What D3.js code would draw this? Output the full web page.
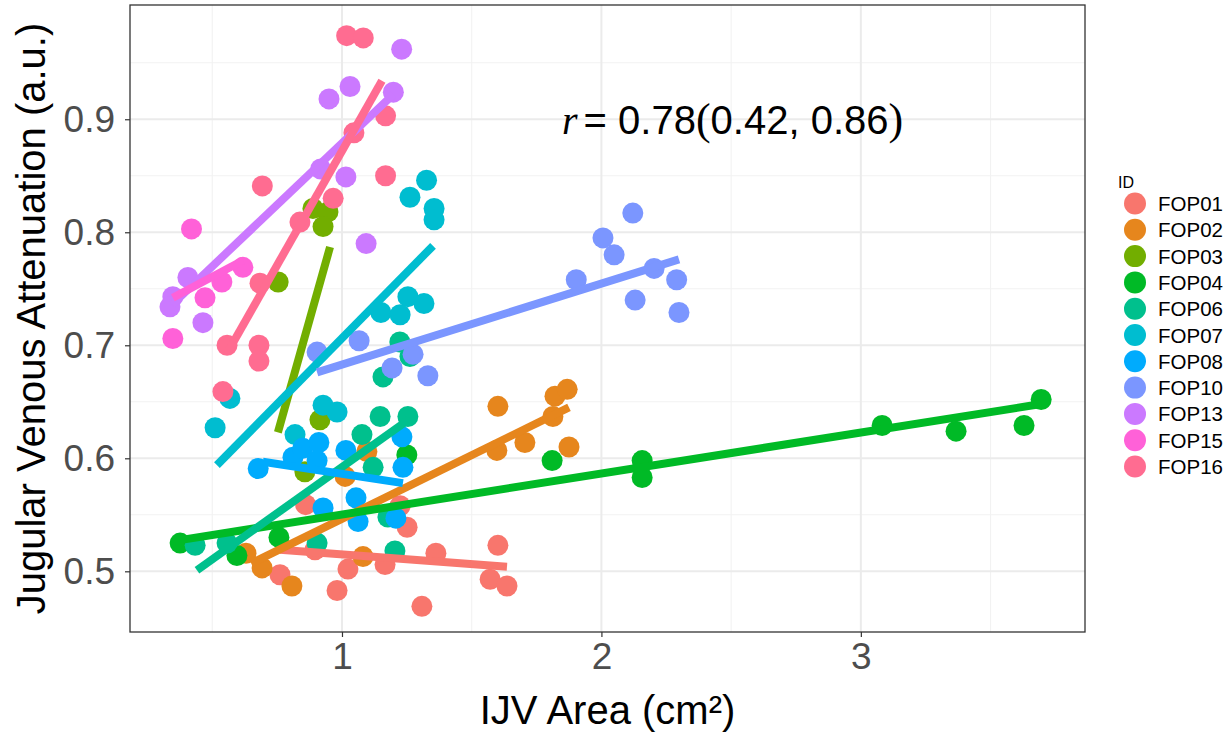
<!DOCTYPE html>
<html>
<head>
<meta charset="utf-8">
<script src="https://cdn.jsdelivr.net/npm/d3@7"></script>
<style>
  body { margin: 0; background: #fff; }
  svg { font-family: "Liberation Sans", Arial, sans-serif; }
</style>
</head>
<body>
<svg id="chart" width="1230" height="734"></svg>
<script>
// groups, in legend order
const ids = ["FOP01", "FOP02", "FOP03", "FOP04", "FOP06", "FOP07", "FOP08", "FOP10", "FOP13", "FOP15", "FOP16"];
const colors = ["#F8766D", "#E6861D", "#72AE00", "#00BA26", "#00C08D", "#00BDD0", "#00ABFD", "#7B96FF", "#CB79FF", "#FF61D8", "#FF6C91"];

// points per subject: [area cm2, attenuation]
const fop01 = [[0.86,0.559],[1.224,0.558],[1.251,0.539],[0.761,0.497],[0.896,0.519],[0.981,0.483],[1.023,0.502],[1.166,0.506],[1.362,0.516],[1.308,0.469],[1.601,0.523],[1.571,0.493],[1.636,0.487]];
const fop02 = [[0.63,0.516],[0.692,0.503],[0.807,0.487],[1.081,0.513],[1.096,0.606],[1.012,0.584],[1.597,0.607],[1.705,0.614],[1.601,0.646],[1.821,0.655],[1.868,0.661],[1.813,0.637],[1.875,0.61]];
const fop03 = [[0.754,0.756],[0.888,0.821],[0.946,0.818],[0.927,0.805],[0.915,0.634],[0.857,0.588]];
const fop04 = [[0.376,0.525],[0.595,0.514],[0.757,0.530],[1.25,0.603],[1.81,0.598],[2.157,0.598],[2.157,0.583],[3.082,0.629],[3.367,0.624],[3.629,0.629],[3.695,0.652]];
const fop06 = [[0.434,0.523],[0.557,0.525],[0.904,0.525],[1.204,0.518],[1.177,0.548],[1.077,0.621],[1.12,0.592],[1.147,0.637],[1.254,0.637],[1.223,0.703],[1.262,0.69],[1.158,0.672]];
const fop07 = [[1.326,0.846],[1.262,0.831],[1.355,0.821],[1.355,0.811],[1.15,0.729],[1.224,0.727],[1.254,0.743],[1.316,0.737],[0.568,0.653],[0.511,0.627],[0.927,0.647],[0.981,0.641],[0.819,0.621]];
const fop08 = [[0.677,0.591],[0.811,0.601],[0.849,0.609],[0.911,0.614],[0.904,0.598],[1.015,0.607],[1.231,0.619],[1.235,0.592],[1.054,0.565],[1.062,0.544],[0.927,0.556],[1.208,0.547]];
const fop10 = [[0.904,0.694],[1.066,0.704],[1.274,0.692],[1.193,0.68],[1.331,0.673],[1.903,0.758],[2.121,0.817],[2.006,0.795],[2.049,0.78],[2.203,0.768],[2.29,0.758],[2.13,0.74],[2.299,0.729]];
const fop13 = [[1.23,0.962],[1.031,0.929],[0.95,0.918],[1.198,0.924],[0.918,0.856],[1.015,0.849],[1.093,0.79],[0.406,0.76],[0.348,0.743],[0.337,0.734],[0.464,0.72]];
const fop15 = [[0.42,0.803],[0.618,0.769],[0.537,0.756],[0.472,0.742],[0.348,0.706]];
const fop16 = [[1.018,0.974],[1.082,0.972],[1.168,0.903],[1.046,0.888],[1.168,0.85],[0.693,0.841],[0.966,0.83],[0.838,0.809],[0.684,0.755],[0.557,0.7],[0.68,0.7],[0.68,0.686],[0.541,0.659]];
const points = [fop01, fop02, fop03, fop04, fop06, fop07, fop08, fop10, fop13, fop15, fop16];

// linear fit segments per subject: [x start, y start, x end, y end]
const fitEnds = [
  [0.761,0.519,1.636,0.504],
  [0.65,0.507,1.875,0.645],
  [0.753,0.623,0.954,0.787],
  [0.387,0.528,3.695,0.648],
  [0.441,0.501,1.262,0.635],
  [0.518,0.594,1.351,0.788],
  [0.695,0.597,1.235,0.578],
  [0.904,0.676,2.299,0.776],
  [0.345,0.736,1.198,0.922],
  [0.348,0.742,0.618,0.775],
  [0.557,0.693,1.154,0.934]
];

const xTicks = [1, 2, 3];
const xMinor = [0.5, 1.5, 2.5, 3.5];
const yTicks = [0.5, 0.6, 0.7, 0.8, 0.9];
const yMinor = [0.55, 0.65, 0.75, 0.85, 0.95];

const svg = d3.select("#chart");
const P = { left: 130, right: 1085, top: 5, bottom: 632 };

const x = d3.scaleLinear().domain([0.1829, 3.864]).range([P.left, P.right]);
const y = d3.scaleLinear().domain([0.4463, 1.0011]).range([P.bottom, P.top]);

// Grid
const grid = svg.append("g");
grid.selectAll(".xm").data(xMinor).join("line")
  .attr("x1", d => x(d)).attr("x2", d => x(d)).attr("y1", P.top).attr("y2", P.bottom)
  .attr("stroke", "#F2F2F2").attr("stroke-width", 1.1);
grid.selectAll(".ym").data(yMinor).join("line")
  .attr("y1", d => y(d)).attr("y2", d => y(d)).attr("x1", P.left).attr("x2", P.right)
  .attr("stroke", "#F2F2F2").attr("stroke-width", 1.1);
grid.selectAll(".xM").data(xTicks).join("line")
  .attr("x1", d => x(d)).attr("x2", d => x(d)).attr("y1", P.top).attr("y2", P.bottom)
  .attr("stroke", "#EBEBEB").attr("stroke-width", 2);
grid.selectAll(".yM").data(yTicks).join("line")
  .attr("y1", d => y(d)).attr("y2", d => y(d)).attr("x1", P.left).attr("x2", P.right)
  .attr("stroke", "#EBEBEB").attr("stroke-width", 2);

// Points
const pts = svg.append("g");
points.forEach((arr, i) => {
  pts.selectAll(null).data(arr).join("circle")
    .attr("cx", d => x(d[0])).attr("cy", d => y(d[1])).attr("r", 10.5)
    .attr("fill", colors[i]);
});

// Fit lines
svg.append("g").selectAll("line").data(fitEnds).join("line")
  .attr("x1", d => x(d[0])).attr("y1", d => y(d[1]))
  .attr("x2", d => x(d[2])).attr("y2", d => y(d[3]))
  .attr("stroke", (d, i) => colors[i]).attr("stroke-width", 8);

// Annotation
const ann = svg.append("text").attr("x", 562).attr("y", 134)
  .style("font-size", "40px").style("fill", "#000");
ann.append("tspan").style("font-style", "italic").style("font-family", "Liberation Serif, serif").text("r");
ann.append("tspan").attr("dx", 6).text("= 0.78");
ann.append("tspan").style("font-family", "Liberation Serif, serif").style("font-size", "44px").text("(");
ann.append("tspan").text("0.42, 0.86");
ann.append("tspan").style("font-family", "Liberation Serif, serif").style("font-size", "44px").text(")");

// Panel border
svg.append("rect").attr("x", P.left).attr("y", P.top)
  .attr("width", P.right - P.left).attr("height", P.bottom - P.top)
  .attr("fill", "none").attr("stroke", "#333333").attr("stroke-width", 1.3);

// Axes
svg.append("g").attr("transform", `translate(0,${P.bottom})`)
  .call(d3.axisBottom(x).tickValues(xTicks).tickSize(5).tickPadding(6).tickFormat(d3.format("d")))
  .call(ax => {
    ax.select(".domain").remove();
    ax.selectAll(".tick line").attr("stroke", "#333333").attr("stroke-width", 1.2);
    ax.selectAll(".tick text").style("fill", "#4D4D4D").style("font-size", "37px")
      .style("font-family", "Liberation Sans, Arial, sans-serif");
  });
svg.append("g").attr("transform", `translate(${P.left},0)`)
  .call(d3.axisLeft(y).tickValues(yTicks).tickSize(5).tickPadding(10).tickFormat(d3.format(".1f")))
  .call(ax => {
    ax.select(".domain").remove();
    ax.selectAll(".tick line").attr("stroke", "#333333").attr("stroke-width", 1.2);
    ax.selectAll(".tick text").style("fill", "#4D4D4D").style("font-size", "37px")
      .style("font-family", "Liberation Sans, Arial, sans-serif");
  });

svg.append("text").attr("x", (P.left + P.right) / 2).attr("y", 724)
  .attr("text-anchor", "middle").style("font-size", "40px").style("fill", "#000")
  .text("IJV Area (cm²)");
svg.append("text").attr("transform", `translate(45,${(P.top + P.bottom) / 2}) rotate(-90)`)
  .attr("text-anchor", "middle").style("font-size", "40px").style("fill", "#000")
  .text("Jugular Venous Attenuation (a.u.)");

// Legend
const legend = svg.append("g").attr("transform", "translate(1118,0)");
legend.append("text").attr("x", 0).attr("y", 188).style("font-size", "16px").style("fill", "#000").text("ID");
ids.forEach((id, i) => {
  const row = legend.append("g").attr("transform", `translate(0,${203.5 + i * 26.3})`);
  row.append("circle").attr("cx", 17).attr("cy", 0).attr("r", 11).attr("fill", colors[i]);
  row.append("text").attr("x", 40).attr("y", 7.5).style("font-size", "20.5px").style("fill", "#000").text(id);
});
</script>
</body>
</html>
